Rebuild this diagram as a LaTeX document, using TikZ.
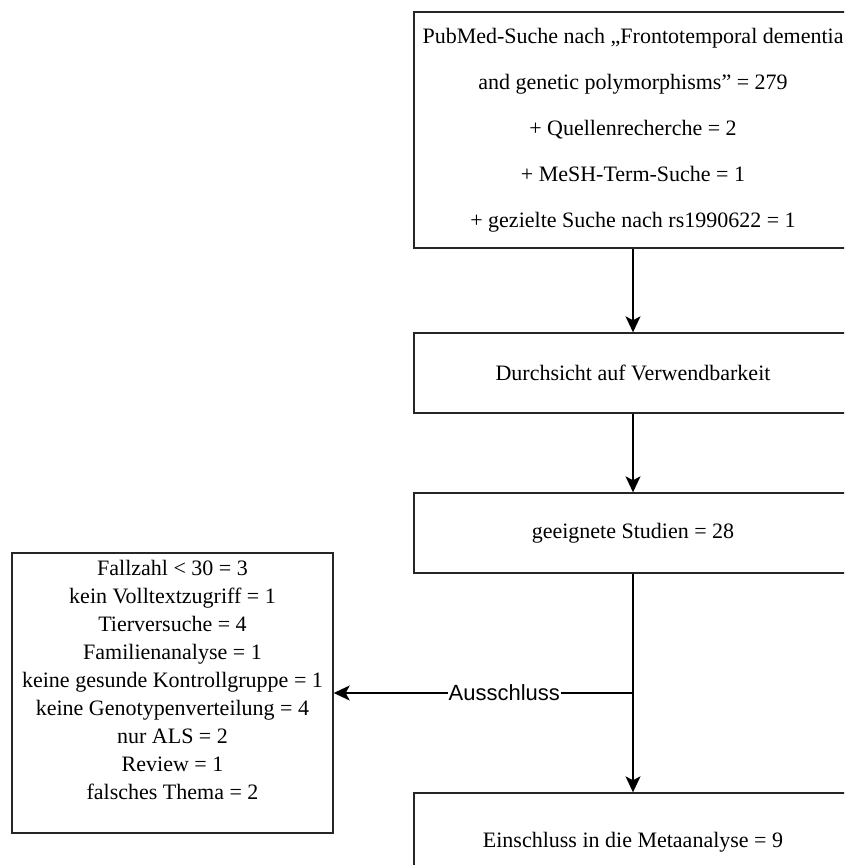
\documentclass[tikz,border=0pt]{standalone}
\usepackage{fontspec}
\setmainfont{Liberation Serif}
\newfontfamily\labelfont{Liberation Sans}
\usetikzlibrary{arrows.meta}

\tikzset{
  flowbox/.style={draw=black!85, line width=1.4pt, fill=white, inner sep=0pt},
  flowarrow/.style={draw=black, line width=1.4pt, -{Stealth[length=16pt, width=15pt, inset=4pt]}},
  boxtext/.style={font=\fontsize{22}{28}\selectfont, align=center, inner sep=0pt},
  edgelabel/.style={font=\labelfont\fontsize{22}{26}\selectfont, fill=white, inner sep=1pt}
}

\begin{document}
\begin{tikzpicture}[x=1pt, y=-1pt]
  \useasboundingbox (0,0) rectangle (844,865);
  \clip (0,0) rectangle (844,865);

  % search box
  \node[flowbox, minimum width=438pt, minimum height=236pt, align=center,
        font=\fontsize{22}{46}\selectfont] (search) at (633,130)
    {PubMed-Suche nach „Frontotemporal dementia\\
     and genetic polymorphisms” = 279\\
     + Quellenrecherche = 2\\
     + MeSH-Term-Suche = 1\\
     + gezielte Suche nach rs1990622 = 1};

  % screening
  \node[flowbox, minimum width=438pt, minimum height=80pt,
        font=\fontsize{22}{26}\selectfont] (screen) at (633,373)
    {Durchsicht auf Verwendbarkeit};

  % eligible studies
  \node[flowbox, minimum width=438pt, minimum height=80pt,
        font=\fontsize{22}{26}\selectfont] (eligible) at (633,533)
    {geeignete Studien = 28};

  % included studies
  \node[flowbox, minimum width=438pt, minimum height=98pt,
        font=\fontsize{22}{26}\selectfont] (included) at (633,842)
    {Einschluss in die Metaanalyse = 9};

  % exclusion reasons
  \node[flowbox, minimum width=321pt, minimum height=280pt] (excluded) at (172.5,693) {};
  \node[boxtext, anchor=north] (reasons) at ([yshift=-8pt]excluded.north)
    {Fallzahl < 30 = 3\\
     kein Volltextzugriff = 1\\
     Tierversuche = 4\\
     Familienanalyse = 1\\
     keine gesunde Kontrollgruppe = 1\\
     keine Genotypenverteilung = 4\\
     nur ALS = 2\\
     Review = 1\\
     falsches Thema = 2};

  % connectors
  \draw[flowarrow] (search) -- (screen);
  \draw[flowarrow] (screen) -- (eligible);
  \draw[flowarrow] (eligible) -- (included);
  \coordinate (split) at (eligible.south |- excluded.east);
  \draw[flowarrow] (split) -- node[edgelabel, pos=0.43] {Ausschluss} (excluded.east);
\end{tikzpicture}
\end{document}
